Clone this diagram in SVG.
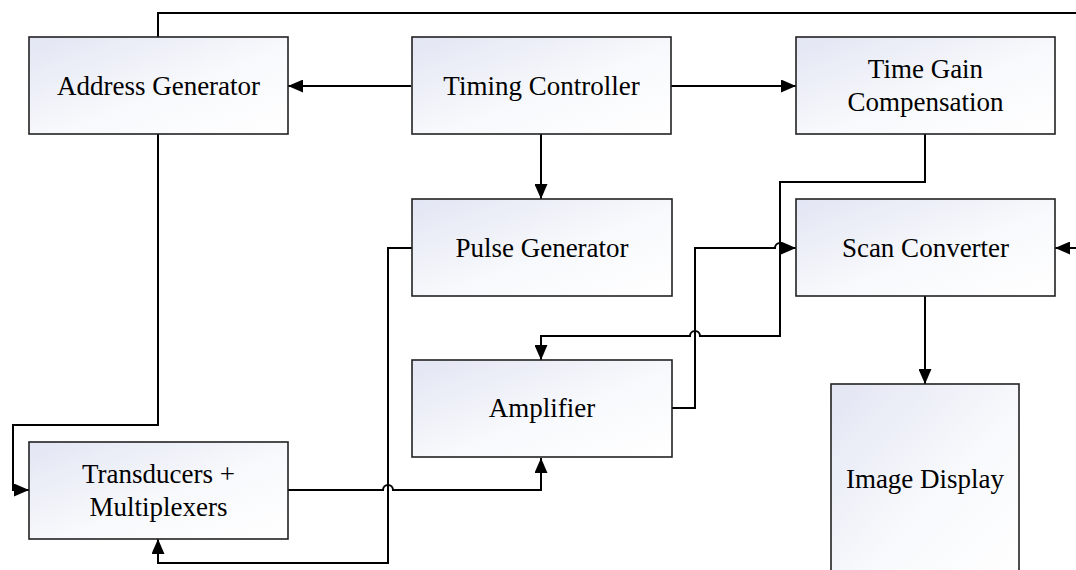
<svg xmlns="http://www.w3.org/2000/svg" width="1076" height="570" viewBox="0 0 1076 570">
  <defs>
    <linearGradient id="boxFill" x1="0" y1="0" x2="1" y2="1">
      <stop offset="0" stop-color="#e2e5f3"/>
      <stop offset="0.55" stop-color="#f8f9fc"/>
      <stop offset="1" stop-color="#ffffff"/>
    </linearGradient>
    <marker id="arrow" markerUnits="userSpaceOnUse" markerWidth="15" markerHeight="13" refX="15" refY="6.5" orient="auto">
      <path d="M0,0 L15,6.5 L0,13 z" fill="#000"/>
    </marker>
    <style>
      .box { fill: url(#boxFill); stroke: #222; stroke-width: 1.6; }
      .lbl { font-family: "Liberation Serif", "Times New Roman", serif; font-size: 27px; fill: #000; text-anchor: middle; }
      .wire { fill: none; stroke: #000; stroke-width: 2; }
      .arr { marker-end: url(#arrow); }
    </style>
  </defs>

  <rect width="1076" height="570" fill="#ffffff"/>

  <!-- connectors -->
  <g id="connectors">
    <!-- address generator to scan converter, routed along the top edge -->
    <path class="wire" d="M158,37 V13 H1080"/>
    <path class="wire arr" d="M1080,248 H1055"/>
    <!-- timing controller outputs -->
    <path class="wire arr" d="M411,86 H288"/>
    <path class="wire arr" d="M671,86 H796"/>
    <path class="wire arr" d="M541,134 V199"/>
    <!-- address generator to transducers -->
    <path class="wire arr" d="M158,134 V425 H13 V490 H29"/>
    <!-- pulse generator to transducers -->
    <path class="wire arr" d="M412,248 H388 V563 H158 V539"/>
    <!-- transducers to amplifier -->
    <path class="wire arr" d="M288,490 H383 A5,5 0 0 1 393,490 H541 V458"/>
    <!-- amplifier to scan converter -->
    <path class="wire arr" d="M672,408 H695 V248 H775 A5,5 0 0 1 785,248 H796"/>
    <!-- time gain compensation to amplifier -->
    <path class="wire arr" d="M925,134 V182 H780 V336 H700 A5,5 0 0 0 690,336 H541 V360"/>
    <!-- scan converter to image display -->
    <path class="wire arr" d="M925,296 V384"/>
  </g>

  <g id="address-generator">
    <rect class="box" x="29" y="37" width="259" height="97"/>
    <text class="lbl" x="158.5" y="95">Address Generator</text>
  </g>

  <g id="timing-controller">
    <rect class="box" x="412" y="37" width="259" height="97"/>
    <text class="lbl" x="541.5" y="95">Timing Controller</text>
  </g>

  <g id="time-gain-compensation">
    <rect class="box" x="796" y="37" width="259" height="97"/>
    <text class="lbl" x="925.5" y="78">Time Gain</text>
    <text class="lbl" x="925.5" y="111">Compensation</text>
  </g>

  <g id="pulse-generator">
    <rect class="box" x="412" y="199" width="260" height="97"/>
    <text class="lbl" x="542" y="257">Pulse Generator</text>
  </g>

  <g id="scan-converter">
    <rect class="box" x="796" y="199" width="259" height="97"/>
    <text class="lbl" x="925.5" y="257">Scan Converter</text>
  </g>

  <g id="amplifier">
    <rect class="box" x="412" y="360" width="260" height="97"/>
    <text class="lbl" x="542" y="417">Amplifier</text>
  </g>

  <g id="transducers-multiplexers">
    <rect class="box" x="29" y="442" width="259" height="97"/>
    <text class="lbl" x="158.5" y="483">Transducers +</text>
    <text class="lbl" x="158.5" y="516">Multiplexers</text>
  </g>

  <g id="image-display">
    <rect class="box" x="831" y="384" width="188" height="200"/>
    <text class="lbl" x="925" y="488">Image Display</text>
  </g>
</svg>
